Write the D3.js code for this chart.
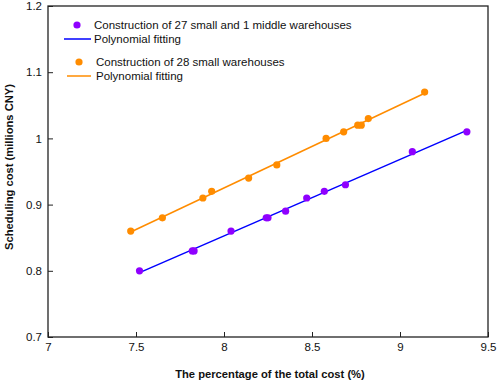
<!DOCTYPE html>
<html>
<head>
<meta charset="utf-8">
<script src="https://cdn.jsdelivr.net/npm/d3@7"></script>
<style>
  body { margin: 0; background: #fff; }
  svg text { font-family: "Liberation Sans", Arial, sans-serif; fill: #111; }
</style>
</head>
<body>
<div id="chart"></div>
<script>
// series: 27 small + 1 middle warehouses
var mixX = [7.52, 7.82, 7.83, 8.04, 8.24, 8.25, 8.35, 8.47, 8.57, 8.69, 9.07, 9.38];
var mixY = [0.80, 0.83, 0.83, 0.86, 0.88, 0.88, 0.89, 0.91, 0.92, 0.93, 0.98, 1.01];
// series: 28 small warehouses
var smallX = [7.47, 7.65, 7.88, 7.93, 8.14, 8.30, 8.58, 8.68, 8.76, 8.78, 8.82, 9.14];
var smallY = [0.86, 0.88, 0.91, 0.92, 0.94, 0.96, 1.00, 1.01, 1.02, 1.02, 1.03, 1.07];

var xTicks = [7, 7.5, 8, 8.5, 9, 9.5];
var yTicks = [0.7, 0.8, 0.9, 1, 1.1, 1.2];
var legendLabels = ["Construction of 27 small and 1 middle warehouses", "Polynomial fitting",
                    "Construction of 28 small warehouses", "Polynomial fitting"];

var W = 498, H = 384;
var margin = {top: 6, right: 10, bottom: 47, left: 48};
var width = W - margin.left - margin.right;
var height = H - margin.top - margin.bottom;

var purple = "#8f00ff", blue = "#0000ff", orange = "#ff8c00";

var svg = d3.select("#chart").append("svg")
    .attr("width", W).attr("height", H);
var g = svg.append("g")
    .attr("transform", "translate(" + margin.left + "," + margin.top + ")");

var x = d3.scaleLinear().domain([7, 9.5]).range([0, width]);
var y = d3.scaleLinear().domain([0.7, 1.2]).range([height, 0]);

// least squares line (degree 1 polynomial)
function fit(xs, ys) {
    var mx = d3.mean(xs), my = d3.mean(ys);
    var num = d3.sum(xs, function(v, i) { return (v - mx) * (ys[i] - my); });
    var den = d3.sum(xs, function(v) { return (v - mx) * (v - mx); });
    var b = num / den, a = my - b * mx;
    var x0 = d3.min(xs), x1 = d3.max(xs);
    return [[x0, a + b * x0], [x1, a + b * x1]];
}

var xAxis = d3.axisBottom(x).tickValues(xTicks).tickSize(-5).tickPadding(6)
    .tickFormat(function(d) { return d; });
var yAxis = d3.axisLeft(y).tickValues(yTicks).tickSize(-5).tickPadding(6)
    .tickFormat(function(d) { return d === 1 ? "1" : d3.format(".1f")(d); });

g.append("g").attr("transform", "translate(0," + height + ")").call(xAxis);
g.append("g").call(yAxis);
g.selectAll(".tick text").attr("font-size", 11.5).attr("fill", "#111")
    .style("font-family", "Liberation Sans, Arial, sans-serif");
g.selectAll(".tick line").attr("stroke", "#222");
g.selectAll(".domain").remove();

g.append("rect")
    .attr("width", width).attr("height", height)
    .attr("fill", "none").attr("stroke", "#222").attr("stroke-width", 1.3);

var line = d3.line().x(function(d) { return x(d[0]); }).y(function(d) { return y(d[1]); });

g.append("path").datum(fit(mixX, mixY)).attr("d", line)
    .attr("stroke", blue).attr("stroke-width", 1.5).attr("fill", "none");
g.append("path").datum(fit(smallX, smallY)).attr("d", line)
    .attr("stroke", orange).attr("stroke-width", 1.5).attr("fill", "none");

g.selectAll(".mix").data(mixX).enter().append("circle")
    .attr("cx", function(d) { return x(d); })
    .attr("cy", function(d, i) { return y(mixY[i]); })
    .attr("r", 3.6).attr("fill", purple);
g.selectAll(".small").data(smallX).enter().append("circle")
    .attr("cx", function(d) { return x(d); })
    .attr("cy", function(d, i) { return y(smallY[i]); })
    .attr("r", 3.6).attr("fill", orange);

// legend
var leg = svg.append("g");
var rows = [
    {type: "dot", color: purple, cx: 77, y: 25, tx: 94},
    {type: "line", color: blue, x0: 64, x1: 91, y: 39, tx: 94},
    {type: "dot", color: orange, cx: 79, y: 62, tx: 96},
    {type: "line", color: orange, x0: 67, x1: 91, y: 76, tx: 96}
];
rows.forEach(function(r, i) {
    if (r.type == "dot") {
        leg.append("circle").attr("cx", r.cx).attr("cy", r.y).attr("r", 3.6).attr("fill", r.color);
    } else {
        leg.append("line").attr("x1", r.x0).attr("x2", r.x1).attr("y1", r.y).attr("y2", r.y)
            .attr("stroke", r.color).attr("stroke-width", 1.5);
    }
    leg.append("text").attr("x", r.tx).attr("y", r.y).attr("dy", "0.35em")
        .attr("font-size", 11.5).text(legendLabels[i]);
});

// axis titles
svg.append("text")
    .attr("x", 270).attr("y", 378)
    .attr("text-anchor", "middle").attr("font-size", 11.2).attr("font-weight", "bold")
    .text("The percentage of the total cost (%)");
svg.append("text")
    .attr("transform", "translate(12.5,167) rotate(-90)")
    .attr("text-anchor", "middle").attr("font-size", 11.2).attr("font-weight", "bold")
    .text("Scheduling cost (millions CNY)");
</script>
</body>
</html>
